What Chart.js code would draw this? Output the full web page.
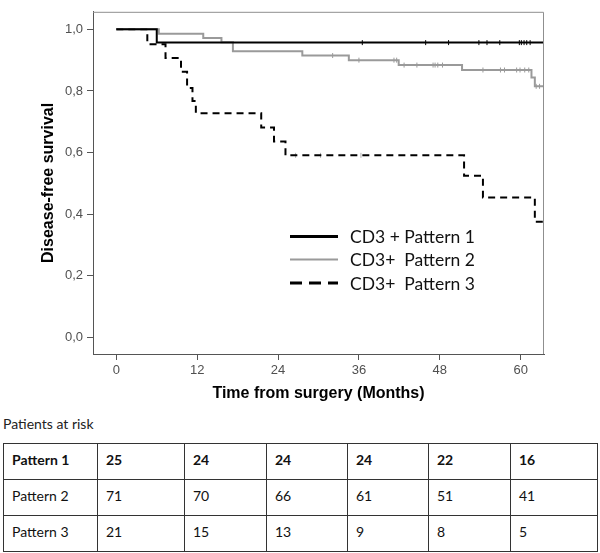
<!DOCTYPE html>
<html>
<head>
<meta charset="utf-8">
<script src="https://cdn.jsdelivr.net/npm/chart.js@4/dist/chart.umd.min.js"></script>
<style>
  html, body { margin: 0; padding: 0; background: #fff; }
  #wrap { position: relative; width: 600px; height: 553px; overflow: hidden; }
  #c { position: absolute; left: 0; top: 0; }
  #riskTitle { position: absolute; left: 3px; top: 415px; font-family: Lato, "Noto Sans", sans-serif; font-size: 14px; line-height: 18px; color: #222; }
  #risk { position: absolute; left: 3px; top: 443px; width: 595px; border-collapse: collapse; table-layout: fixed;
          font-family: Lato, "Noto Sans", sans-serif; font-size: 14px; color: #111; }
  #risk td { border: 1px solid #333; height: 31px; padding: 0 0 4px 8px; vertical-align: middle; box-sizing: content-box; }
  #risk tr.b td { font-weight: bold; }
</style>
</head>
<body>
<div id="wrap">
  <canvas id="c" width="600" height="410"></canvas>
  <div id="riskTitle"></div>
  <table id="risk"><colgroup id="cols"></colgroup><tbody id="riskBody"></tbody></table>
</div>
<script>
// ---------------- data ----------------
const seriesNames = ['CD3 + Pattern 1', 'CD3+  Pattern 2', 'CD3+  Pattern 3'];

// Kaplan-Meier steps (time in months, survival after the event)
const p1Times = [0, 6.0, 63.5];
const p1Surv  = [1.0, 0.957, 0.957];
const p2Times = [0, 6.3, 12.9, 15.6, 17.3, 27.6, 34.5, 41.9, 51.3, 61.6, 62.1, 63.5];
const p2Surv  = [1.0, 0.986, 0.972, 0.958, 0.929, 0.915, 0.900, 0.884, 0.868, 0.844, 0.815, 0.815];
const p3Times = [0, 4.6, 7.3, 9.6, 10.5, 11.3, 11.8, 21.5, 23.4, 25.1, 51.6, 54.4, 62.1, 63.5];
const p3Surv  = [1.0, 0.952, 0.907, 0.862, 0.810, 0.767, 0.728, 0.681, 0.636, 0.591, 0.525, 0.454, 0.375, 0.375];

// censoring marks (months)
const p1Cens = [36.5, 45.9, 49.3, 53.8, 55.0, 56.9, 59.8, 60.1, 60.5, 60.9, 61.4];
const p2Cens = [32.1, 36.0, 41.2, 41.6, 42.7, 44.6, 47.0, 47.3, 47.7, 48.4, 54.4, 57.0, 57.6, 59.4, 59.9, 60.6, 61.2, 62.3, 62.8];
const p3Cens = [26.6, 30.3, 36.3];

const xTicks = [0, 12, 24, 36, 48, 60];
const yTicks = [0, 0.2, 0.4, 0.6, 0.8, 1.0];
const yTickLabels = ['0,0', '0,2', '0,4', '0,6', '0,8', '1,0'];
const xTitle = 'Time from surgery (Months)';
const yTitle = 'Disease-free survival';

// patients at risk table
const riskTitle = 'Patients at risk';
const riskLabels = ['Pattern 1', 'Pattern 2', 'Pattern 3'];
const risk1 = [25, 24, 24, 24, 22, 16];
const risk2 = [71, 70, 66, 61, 51, 41];
const risk3 = [21, 15, 13, 9, 8, 5];

// ---------------- helpers ----------------
function pts(t, s) { return t.map((x, i) => ({ x: x, y: s[i] })); }
function survAt(t, s, time) {
  let v = s[0];
  for (let i = 0; i < t.length; i++) { if (t[i] <= time) v = s[i]; }
  return v;
}
function censPts(c, t, s) { return c.map(x => ({ x: x, y: survAt(t, s, x) })); }

const C1 = '#000000', C2 = '#9a9a9a', C3 = '#000000';
const legendStyles = [
  { color: C1, width: 3, dash: [] },
  { color: C2, width: 2, dash: [] },
  { color: C3, width: 3, dash: [12, 7] }
];

const frameAndLegend = {
  id: 'frameAndLegend',
  afterDraw(chart) {
    const { ctx, chartArea: a } = chart;
    ctx.save();
    ctx.strokeStyle = '#8f8f8f';
    ctx.lineWidth = 1;
    ctx.beginPath();
    ctx.moveTo(a.left, a.top + 0.5);
    ctx.lineTo(a.right - 0.5, a.top + 0.5);
    ctx.lineTo(a.right - 0.5, a.bottom);
    ctx.stroke();
    // legend
    const lx0 = 290, lx1 = 338, tx = 350;
    const rows = [236.5, 259.5, 283];
    ctx.font = '17.5px Lato, "Noto Sans", sans-serif';
    ctx.textBaseline = 'middle';
    ctx.textAlign = 'left';
    seriesNames.forEach((name, i) => {
      const st = legendStyles[i];
      ctx.beginPath();
      ctx.setLineDash(st.dash);
      ctx.strokeStyle = st.color;
      ctx.lineWidth = st.width;
      ctx.moveTo(lx0, rows[i]);
      ctx.lineTo(lx1, rows[i]);
      ctx.stroke();
      ctx.setLineDash([]);
      ctx.fillStyle = '#111';
      ctx.fillText(name, tx, rows[i] + 1);
    });
    ctx.restore();
  }
};

Chart.defaults.font.family = '"Liberation Sans", Arial, sans-serif';
Chart.defaults.animation = false;

new Chart(document.getElementById('c'), {
  type: 'scatter',
  data: {
    datasets: [
      { label: seriesNames[0], type: 'line', data: pts(p1Times, p1Surv), stepped: 'before', borderColor: C1, borderWidth: 2, pointRadius: 0, fill: false },
      { label: seriesNames[1], type: 'line', data: pts(p2Times, p2Surv), stepped: 'before', borderColor: C2, borderWidth: 2, pointRadius: 0, fill: false },
      { label: seriesNames[2], type: 'line', data: pts(p3Times, p3Surv), stepped: 'before', borderColor: C3, borderWidth: 2, borderDash: [7, 5], pointRadius: 0, fill: false },
      { label: 'c1', data: censPts(p1Cens, p1Times, p1Surv), pointStyle: 'line', rotation: 90, radius: 2.5, borderColor: '#000', borderWidth: 1 },
      { label: 'c2', data: censPts(p2Cens, p2Times, p2Surv), pointStyle: 'line', rotation: 90, radius: 2.5, borderColor: '#9a9a9a', borderWidth: 1 },
      { label: 'c3', data: censPts(p3Cens, p3Times, p3Surv), pointStyle: 'line', rotation: 90, radius: 2.5, borderColor: '#b0b0b0', borderWidth: 1 }
    ]
  },
  options: {
    responsive: false,
    animation: false,
    layout: { padding: { top: 3, right: 56, left: 0, bottom: 0 } },
    plugins: { legend: { display: false }, tooltip: { enabled: false } },
    scales: {
      x: {
        type: 'linear', min: -3.46, max: 63.46,
        afterFit: s => { s.height = 56; },
        afterBuildTicks: s => { s.ticks = xTicks.map(v => ({ value: v })); },
        grid: { drawOnChartArea: false, drawTicks: true, tickLength: 6, color: '#555' },
        border: { display: true, color: '#555', width: 1 },
        ticks: { padding: 3, color: '#505050', font: { size: 13 }, maxRotation: 0 },
        title: { display: true, text: xTitle, color: '#000', font: { size: 16, weight: 'bold' }, padding: { top: 0, bottom: 7 } }
      },
      y: {
        type: 'linear', min: -0.054, max: 1.057,
        afterFit: s => { s.width = 93; },
        afterBuildTicks: s => { s.ticks = yTicks.map(v => ({ value: v })); },
        grid: { drawOnChartArea: false, drawTicks: true, tickLength: 6, color: '#555' },
        border: { display: true, color: '#555', width: 1 },
        ticks: { padding: 4, color: '#505050', font: { size: 13 },
                 callback: (v) => { const i = yTicks.findIndex(t => Math.abs(t - v) < 1e-6); return i >= 0 ? yTickLabels[i] : ''; } },
        title: { display: true, text: yTitle, color: '#000', font: { size: 16, weight: 'bold' }, padding: { top: 39, bottom: 0 } }
      }
    }
  },
  plugins: [frameAndLegend]
});

// ---------------- risk table ----------------
document.getElementById('riskTitle').textContent = riskTitle;
const colW = [94, 87, 82, 81, 81, 82, 87];
const cols = document.getElementById('cols');
colW.forEach(w => { const c = document.createElement('col'); c.style.width = w + 'px'; cols.appendChild(c); });
const body = document.getElementById('riskBody');
[risk1, risk2, risk3].forEach((row, r) => {
  const tr = document.createElement('tr');
  if (r === 0) tr.className = 'b';
  const th = document.createElement('td'); th.textContent = riskLabels[r]; tr.appendChild(th);
  row.forEach(v => { const td = document.createElement('td'); td.textContent = String(v); tr.appendChild(td); });
  body.appendChild(tr);
});
</script>
</body>
</html>
